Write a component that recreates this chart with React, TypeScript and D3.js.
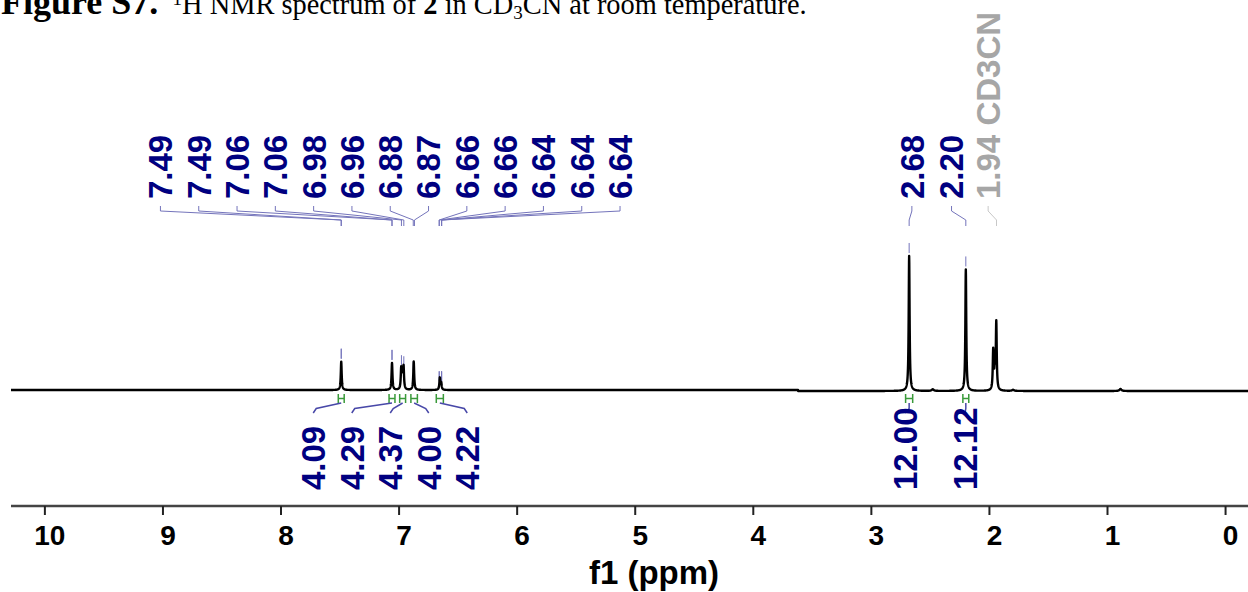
import React from 'react';
import * as d3 from 'd3';

// ---------- data ----------
const axisTicks = [10, 9, 8, 7, 6, 5, 4, 3, 2, 1, 0];

// spectral lines: centre (ppm), height (relative to tallest), half-width (ppm)
const lineCenter = [7.49, 7.06, 6.982, 6.972, 6.962, 6.876, 6.655, 6.643, 2.68, 2.2, 1.968, 1.955, 1.942, 2.48, 1.8, 0.89];
const lineHeight = [0.21, 0.2, 0.15, 0.11, 0.16, 0.21, 0.088, 0.05, 1.0, 0.9, 0.29, 0.15, 0.5, 0.012, 0.008, 0.015];
const lineWidth = [0.0045, 0.0045, 0.0045, 0.0045, 0.0045, 0.0045, 0.0045, 0.0045, 0.0045, 0.0045, 0.0045, 0.0045, 0.0045, 0.01, 0.01, 0.01];
const baselineStepPpm = 3.62;
const baselineStepHeight = 0.007;

// peak labels
const aromaticLabelPpm = [7.49, 7.49, 7.06, 7.06, 6.98, 6.96, 6.88, 6.87, 6.66, 6.66, 6.64, 6.64, 6.64];
const aliphaticLabelPpm = [2.68, 2.2, 1.94];
const aliphaticLabelText = ['2.68', '2.20', '1.94 CD3CN'];
const aliphaticLabelSolvent = [false, false, true];

// integrals
const integralFrom = [7.515, 7.085, 6.995, 6.9, 6.685, 2.71, 2.225];
const integralTo = [7.465, 7.035, 6.945, 6.845, 6.625, 2.65, 2.175];
const integralValue = ['4.09', '4.29', '4.37', '4.00', '4.22', '12.00', '12.12'];

// ---------- layout ----------
const W = 1248;
const H = 592;
const x = d3.scaleLinear().domain([10.287, -0.19]).range([11, 1248]);
const y = d3.scaleLinear().domain([0, 1]).range([391, 256]);

const NAVY = '#000080';
const LINK = '#7474bb';
const GRAY = '#a6a6a6';
const LABEL_FONT = "'Liberation Sans', Arial, sans-serif";
const SERIF = "'Liberation Serif', 'Times New Roman', serif";

function intensity(p: number): number {
  let s = p > baselineStepPpm ? baselineStepHeight : 0;
  for (let i = 0; i < lineCenter.length; i++) {
    const d = (p - lineCenter[i]) / lineWidth[i];
    s += lineHeight[i] / (1 + d * d);
  }
  return s;
}

function spread(n: number, centerX: number, spacing: number): number[] {
  return d3.range(n).map((i) => centerX + (i - (n - 1) / 2) * spacing);
}

export default function App() {
  const pts: [number, number][] = [];
  const [p0, p1] = x.domain();
  for (let p = p0; p >= p1; p -= 0.001) pts.push([p, intensity(p)]);
  const spectrumPath = d3
    .line<[number, number]>()
    .x((d) => x(d[0]))
    .y((d) => y(d[1]))(pts) as string;

  // top label positions
  const aroX = spread(aromaticLabelPpm.length, x(7.075), 38.3);
  const aliX = [x(2.657), ...spread(2, x(2.166), 36.6)];
  const topY0 = 206;
  const topY1 = 211;
  const topY2 = 220;
  const topY3 = 226;
  const topTextY = 199;

  // integral label positions
  const intLeftX = spread(5, x(7.075), 38.5);
  const intX = [...intLeftX, x(2.715), x(2.207)];

  const labelText = (tx: number, ty: number, txt: string, color: string, anchor: string, key: string) => (
    <text
      key={key}
      transform={`translate(${tx},${ty}) rotate(-90)`}
      dy="0.36em"
      textAnchor={anchor}
      fontFamily={LABEL_FONT}
      fontWeight="bold"
      fontSize={33}
      fill={color}
    >
      {txt}
    </text>
  );

  const topLink = (lx: number, px: number, color: string, key: string) => (
    <path
      key={key}
      d={`M${lx},${topY0}L${lx},${topY1}L${px},${topY2}L${px},${topY3}`}
      fill="none"
      stroke={color}
      strokeWidth={1}
    />
  );

  const peakTick = (p: number, color: string, key: string) => {
    const ty = y(intensity(p));
    return <line key={key} x1={x(p)} x2={x(p)} y1={ty - 13} y2={ty - 3} stroke={color} strokeWidth={1} />;
  };

  return (
    <svg width={W} height={H} style={{ position: 'absolute', left: 0, top: 0, background: '#fff' }}>
      {/* caption */}
      <text x={1} y={14} fontFamily={SERIF} fontSize={28.4} fill="#000" style={{ whiteSpace: 'pre' }}>
        <tspan fontWeight="bold" fontSize={36}>Figure S7.</tspan>
        <tspan>{'\u00a0\u00a0'}</tspan>
        <tspan fontSize={19} dy={-9}>1</tspan>
        <tspan dy={9}>H NMR spectrum of </tspan>
        <tspan fontWeight="bold">2</tspan>
        <tspan> in CD</tspan>
        <tspan fontSize={19} dy={5}>3</tspan>
        <tspan dy={-5}>CN at room temperature.</tspan>
      </text>

      {/* peak labels */}
      {aromaticLabelPpm.map((p, i) => labelText(aroX[i], topTextY, p.toFixed(2), NAVY, 'start', `al${i}`))}
      {aromaticLabelPpm.map((p, i) => topLink(aroX[i], x(p), LINK, `alk${i}`))}
      {aromaticLabelPpm.map((p, i) => peakTick(p, LINK, `at${i}`))}
      {aliphaticLabelPpm.map((p, i) =>
        labelText(aliX[i], topTextY, aliphaticLabelText[i], aliphaticLabelSolvent[i] ? GRAY : NAVY, 'start', `bl${i}`)
      )}
      {aliphaticLabelPpm.map((p, i) => topLink(aliX[i], x(p), aliphaticLabelSolvent[i] ? '#c8c8c8' : LINK, `blk${i}`))}
      {aliphaticLabelPpm.map((p, i) => peakTick(p, aliphaticLabelSolvent[i] ? '#c8c8c8' : LINK, `bt${i}`))}

      {/* spectrum */}
      <path d={spectrumPath} fill="none" stroke="#000" strokeWidth={2.4} strokeLinejoin="round" />

      {/* integrals */}
      {integralFrom.map((f, i) => {
        const xa = x(f);
        const xb = x(integralTo[i]);
        const xm = (xa + xb) / 2;
        const lx = intX[i];
        const s = lx < xm ? 1 : -1;
        return (
          <g key={`int${i}`}>
            <path
              d={`M${xa},394V403M${xb},394V403M${xa},398.5H${xb}`}
              fill="none"
              stroke="#3a9a3a"
              strokeWidth={1.5}
            />
            <path
              d={`M${xm},403L${Math.abs(lx - xm) < 6 ? xm : lx + s * 3},408.5L${lx},413`}
              fill="none"
              stroke="#4848a8"
              strokeWidth={1.5}
            />
            {labelText(lx, 490, integralValue[i], NAVY, 'start', `il${i}`)}
          </g>
        );
      })}

      {/* axis */}
      <line x1={11} x2={W} y1={506} y2={506} stroke="#444" strokeWidth={2.6} />
      {axisTicks.map((t) => (
        <g key={`t${t}`}>
          <line x1={x(t)} x2={x(t)} y1={506} y2={515} stroke="#222" strokeWidth={2} />
          <text
            x={x(t) + 5}
            y={545}
            textAnchor="middle"
            fontFamily={LABEL_FONT}
            fontWeight="bold"
            fontSize={28}
            fill="#000"
          >
            {t}
          </text>
        </g>
      ))}
      <text x={654} y={584} textAnchor="middle" fontFamily={LABEL_FONT} fontWeight="bold" fontSize={33} fill="#000">
        f1 (ppm)
      </text>
    </svg>
  );
}
